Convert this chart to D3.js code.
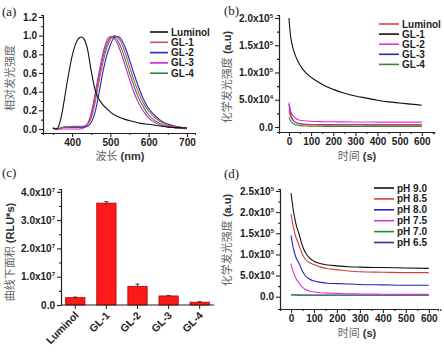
<!DOCTYPE html>
<html>
<head>
<meta charset="utf-8">
<script src="https://cdn.jsdelivr.net/npm/d3@7"></script>
<style>
body { margin: 0; background: #fff; }
svg text { font-family: "Liberation Sans", Arial, sans-serif; }
.tick text { font-weight: bold; font-size: 10px; fill: #222; }
.tick line, .domain { stroke: #222; stroke-width: 1.1; }
.cn { font-family: "Noto Sans CJK SC", sans-serif; fill: #666; font-weight: normal; }
.lat { font-weight: bold; fill: #333; }
.leg { font-weight: bold; font-size: 10px; fill: #222; }
.plabel { font-family: "Liberation Serif", serif; font-size: 13px; fill: #222; }
</style>
</head>
<body>
<svg id="chart" width="444" height="353"></svg>
<script>
// ---- (a) emission spectra ----
var wavelength = [350,360,370,380,390,400,410,420,430,440,450,460,470,480,490,500,510,520,530,540,550,560,570,580,590,600,620,640,660,680,700];
var gl1Spec = [0.01,0.0,0.01,0.02,0.02,0.03,0.03,0.03,0.03,0.05,0.12,0.28,0.5,0.7,0.86,0.96,1.0,0.98,0.91,0.8,0.67,0.54,0.43,0.33,0.25,0.19,0.11,0.06,0.03,0.02,0.01];
var gl2Spec = [0.01,0.0,0.01,0.02,0.02,0.02,0.02,0.02,0.02,0.03,0.07,0.18,0.38,0.6,0.78,0.9,0.98,0.99,0.95,0.86,0.74,0.61,0.49,0.38,0.29,0.22,0.13,0.07,0.04,0.02,0.01];
var gl3Spec = [0.01,0.0,0.0,0.0,0.0,0.0,0.0,0.0,0.01,0.05,0.17,0.38,0.6,0.8,0.94,0.99,0.97,0.9,0.79,0.66,0.53,0.41,0.31,0.23,0.17,0.12,0.06,0.03,0.02,0.01,0.0];
var gl4Spec = [0.01,0.0,0.01,0.02,0.02,0.02,0.02,0.02,0.03,0.05,0.14,0.33,0.55,0.76,0.9,0.98,0.99,0.94,0.85,0.73,0.6,0.48,0.37,0.28,0.21,0.15,0.08,0.04,0.02,0.01,0.01];
var lumWavelength = [350,355,360,365,370,375,380,385,390,400,410,420,425,430,440,450,460,470,480,490,500,520,540,560,580,600,650,700];
var lumSpec = [0.01,0.0,0.0,0.03,0.1,0.2,0.32,0.45,0.57,0.78,0.92,0.98,0.985,0.97,0.86,0.62,0.42,0.32,0.26,0.22,0.18,0.13,0.1,0.08,0.06,0.05,0.02,0.01];
var specNames = ["Luminol", "GL-1", "GL-2", "GL-3", "GL-4"];
var specColors = ["#111111", "#c0504d", "#2222cc", "#cc22cc", "#2e8b3e"];

// ---- (b) kinetics of the five probes ----
var timeB = [0,5,10,20,30,45,60,80,100,130,160,200,250,300,350,400,450,500,550,600];
var kinLum = [30000,22000,17000,11000,8000,6000,5000,4400,4100,3900,3800,3700,3600,3600,3500,3500,3500,3500,3500,3500];
var kinGL1 = [200000,175000,160000,142000,130000,117000,107000,98000,91000,83000,76000,69000,62000,57000,53000,49000,46000,44000,42000,40000];
var kinGL2 = [45000,34000,27000,20000,16000,13000,11800,11000,10500,10000,9700,9500,9300,9200,9100,9000,9000,9000,8900,8900];
var kinGL3 = [42000,28000,20000,12000,8500,6500,5500,4900,4600,4400,4300,4200,4100,4100,4000,4000,4000,4000,4000,4000];
var kinGL4 = [18000,13000,9500,6000,4000,2800,2100,1700,1500,1300,1200,1100,1100,1000,1000,1000,1000,1000,1000,1000];
var kinNames = ["Luminol", "GL-1", "GL-2", "GL-3", "GL-4"];
var kinColors = ["#e8403a", "#111111", "#dd33dd", "#2a2aa8", "#2e8b3e"];

// ---- (c) integrated area ----
var probes = ["Luminol", "GL-1", "GL-2", "GL-3", "GL-4"];
var areaValues = [2.6e6, 3.6e7, 6.6e6, 3.2e6, 1.0e6];
var areaErrors = [2.0e5, 5.0e5, 8.0e5, 1.5e5, 1.5e5];

// ---- (d) pH dependence ----
var timeD = [0,10,20,34,50,63,80,100,130,160,200,250,300,400,500,600];
var ph90 = [245000,205000,175000,150000,120000,104000,92000,84000,78000,75000,73000,71000,70000,69000,68000,67000];
var ph85 = [195000,165000,143000,123000,100000,88000,81000,76000,70000,66000,64000,61000,59000,58000,57000,57000];
var ph80 = [145000,115000,95000,80000,60000,49000,42000,37000,34000,32000,31000,30000,29000,28000,27000,27000];
var ph75 = [78000,58000,45000,33000,22000,17000,13500,11000,9500,8500,8000,7000,6500,6000,5500,5500];
var ph70 = [5000,4600,4400,4200,4100,4000,4000,4000,4000,4000,4000,4000,4000,4000,4000,4000];
var ph65 = [4500,4200,4000,3800,3700,3600,3600,3600,3600,3600,3600,3600,3600,3600,3600,3600];
var phNames = ["pH 9.0", "pH 8.5", "pH 8.0", "pH 7.5", "pH 7.0", "pH 6.5"];
var phColors = ["#111111", "#d0403a", "#2222cc", "#dd33dd", "#2e8b3e", "#333388"];

var svg = d3.select("#chart");

function sciLabel(sel) {
  sel.selectAll(".tick text").each(function(d) {
    var t = d3.select(this).text("");
    if (d === 0) { t.text("0.0"); return; }
    var e = Math.floor(Math.log10(d) + 1e-9);
    var m = d / Math.pow(10, e);
    t.append("tspan").text(m.toFixed(1) + "x10");
    t.append("tspan").attr("dy", -4).style("font-size", "6px").text(e);
  });
}

function range(a, b, s) {
  var out = [];
  for (var v = a; v <= b + 1e-9; v += s) out.push(+v.toFixed(6));
  return out;
}

function axes(x, y, yAt, xMaj, xMin, yMaj, yMin, yFmt) {
  var xl = x.range()[0];
  if (xMaj) {
    svg.append("g").attr("transform", `translate(0,${yAt})`)
      .call(d3.axisBottom(x).tickValues(xMin).tickSize(2).tickFormat(""));
    svg.append("g").attr("transform", `translate(0,${yAt})`)
      .call(d3.axisBottom(x).tickValues(xMaj).tickSize(4).tickSizeOuter(0).tickPadding(2));
  }
  svg.append("g").attr("transform", `translate(${xl},0)`)
    .call(d3.axisLeft(y).tickValues(yMin).tickSize(2).tickFormat(""));
  var ya = svg.append("g").attr("transform", `translate(${xl},0)`)
    .call(d3.axisLeft(y).tickValues(yMaj).tickSize(4).tickSizeOuter(0).tickPadding(2)
      .tickFormat(yFmt || (d => d.toFixed(1))));
  if (!yFmt) sciLabel(ya);
  svg.selectAll(".domain").attr("stroke-width", 1.2);
}

function axisTitle(x, y, cn, lat, rot) {
  var t = svg.append("text").attr("text-anchor", "middle").style("font-size", "11px")
    .attr("transform", `translate(${x},${y})` + (rot ? " rotate(-90)" : ""));
  t.append("tspan").attr("class", "cn").text(cn);
  if (lat) t.append("tspan").attr("class", "lat").text(" " + lat);
}

function legend(x0, y0, dy, names, colors, len) {
  names.forEach(function(n, i) {
    svg.append("line").attr("x1", x0).attr("x2", x0 + len)
      .attr("y1", y0 + i * dy).attr("y2", y0 + i * dy)
      .attr("stroke", colors[i]).attr("stroke-width", 1.6);
    svg.append("text").attr("class", "leg").attr("x", x0 + len + 3)
      .attr("y", y0 + i * dy + 3.5).text(n);
  });
}

function drawLine(xs, ys, x, y, color) {
  svg.append("path").datum(xs.map((v, i) => [v, ys[i]]))
    .attr("fill", "none").attr("stroke", color).attr("stroke-width", 1.1)
    .attr("d", d3.line().x(d => x(d[0])).y(d => y(d[1])).curve(d3.curveMonotoneX));
}

// ===== panel (a) =====
var xA = d3.scaleLinear().domain([324, 721]).range([43, 195]);
var yA = d3.scaleLinear().domain([-0.043, 1.221]).range([133, 15]);
axes(xA, yA, 133, [400,500,600,700], [350,450,550,650],
  range(0, 1.2, 0.2), range(0.1, 1.1, 0.2), d => d.toFixed(1));
[gl4Spec, gl3Spec, gl2Spec, gl1Spec].forEach(function(s, i) {
  drawLine(wavelength, s, xA, yA, specColors[4 - i]);
});
drawLine(lumWavelength, lumSpec, xA, yA, specColors[0]);
legend(150, 32, 10.3, specNames, specColors, 18);
axisTitle(120, 160, "波长", "(nm)", false);
axisTitle(14, 78, "相对发光强度", null, true);
svg.append("text").attr("class", "plabel").attr("x", 2).attr("y", 16).text("(a)");

// ===== panel (b) =====
var xB = d3.scaleLinear().domain([-45, 655]).range([279, 434]);
var yB = d3.scaleLinear().domain([-9200, 205500]).range([132, 15]);
axes(xB, yB, 132, range(0, 600, 100), range(50, 650, 100),
  range(0, 200000, 50000), range(25000, 175000, 50000));
drawLine(timeB, kinGL4, xB, yB, kinColors[4]);
drawLine(timeB, kinGL3, xB, yB, kinColors[3]);
drawLine(timeB, kinLum, xB, yB, kinColors[0]);
drawLine(timeB, kinGL2, xB, yB, kinColors[2]);
drawLine(timeB, kinGL1, xB, yB, kinColors[1]);
legend(379, 24, 10.1, kinNames, kinColors, 20);
axisTitle(357, 160, "时间", "(s)", false);
axisTitle(231, 77, "化学发光强度", "(a.u)", true);
svg.append("text").attr("class", "plabel").attr("x", 224).attr("y", 15).text("(b)");

// ===== panel (c) =====
var xC = d3.scaleBand().domain(probes).range([61, 214]).paddingInner(0.38).paddingOuter(0.15);
var yC = d3.scaleLinear().domain([0, 4.1e7]).range([305, 189]);
svg.selectAll(".bar").data(probes).enter().append("rect")
  .attr("x", d => xC(d)).attr("width", xC.bandwidth())
  .attr("y", (d, i) => yC(areaValues[i])).attr("height", (d, i) => yC(0) - yC(areaValues[i]))
  .attr("fill", "#ff1a1a").attr("stroke", "#b00000").attr("stroke-width", 0.8);
probes.forEach(function(p, i) {
  var cx = xC(p) + xC.bandwidth() / 2;
  var g = svg.append("g").attr("stroke", "#333").attr("stroke-width", 1);
  g.append("line").attr("x1", cx).attr("x2", cx)
    .attr("y1", yC(areaValues[i] - areaErrors[i])).attr("y2", yC(areaValues[i] + areaErrors[i]));
  g.append("line").attr("x1", cx - 2).attr("x2", cx + 2)
    .attr("y1", yC(areaValues[i] + areaErrors[i])).attr("y2", yC(areaValues[i] + areaErrors[i]));
});
svg.append("line").attr("x1", 61).attr("x2", 214).attr("y1", 305).attr("y2", 305)
  .attr("stroke", "#222").attr("stroke-width", 1.2);
axes(xC, yC, 305, null, null, range(0, 4e7, 1e7), range(5e6, 3.5e7, 1e7));
probes.forEach(function(p) {
  var cx = xC(p) + xC.bandwidth() / 2;
  svg.append("line").attr("x1", cx).attr("x2", cx).attr("y1", 305).attr("y2", 309).attr("stroke", "#222");
  svg.append("text").attr("class", "leg").attr("text-anchor", "end")
    .style("font-size", "10.5px")
    .attr("transform", `translate(${cx + 4},${316}) rotate(-45)`).text(p);
});
axisTitle(14, 252, "曲线下面积", "(RLU*s)", true);
svg.append("text").attr("class", "plabel").attr("x", 2).attr("y", 177).text("(c)");

// ===== panel (d) =====
var xD = d3.scaleLinear().domain([-48, 640]).range([280, 438]);
var yD = d3.scaleLinear().domain([-29000, 254700]).range([309, 189]);
axes(xD, yD, 309, range(0, 600, 100), range(50, 650, 100),
  range(0, 250000, 50000), range(25000, 225000, 50000));
[ph65, ph70, ph75, ph80, ph85, ph90].forEach(function(s, i) {
  drawLine(timeD, s, xD, yD, phColors[5 - i]);
});
legend(374, 188, 10.9, phNames, phColors, 20);
axisTitle(357, 337, "时间", "(s)", false);
axisTitle(231, 240, "化学发光强度", "(a.u)", true);
svg.append("text").attr("class", "plabel").attr("x", 224).attr("y", 178).text("(d)");
</script>
</body>
</html>
